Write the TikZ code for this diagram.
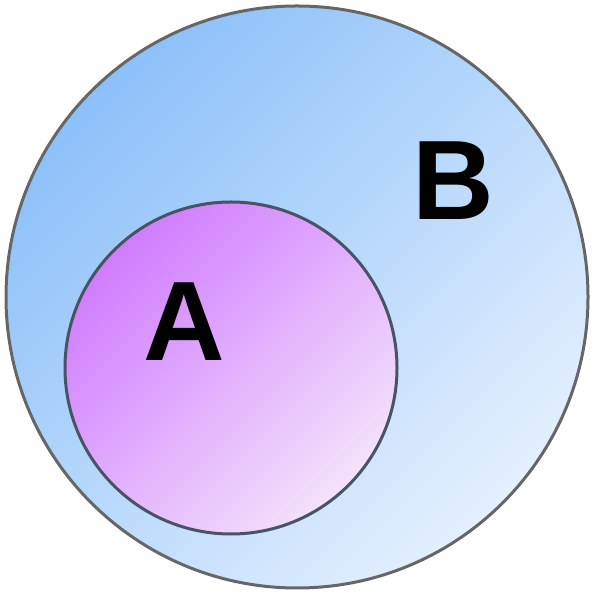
\documentclass[tikz,border=0pt]{standalone}
\usepackage{fontspec}
\setmainfont{Liberation Sans}
\definecolor{bluedark}{HTML}{8CC0F9}
\definecolor{bluelight}{HTML}{E4F0FE}
\definecolor{purpledark}{HTML}{D07CFD}
\definecolor{purplelight}{HTML}{F3E2FC}
\definecolor{rimB}{HTML}{666666}
\definecolor{rimA}{HTML}{4A5366}
\begin{document}
\begin{tikzpicture}[x=1pt,y=1pt,
  setcircle/.style={circle,inner sep=0pt,line width=3pt},
  setlabel/.style={font=\bfseries\fontsize{113}{113}\selectfont,inner sep=0pt}]
\useasboundingbox (0,0) rectangle (593,593);
\node[setcircle,draw=rimB,top color=bluedark,bottom color=bluelight,shading angle=45,minimum size=582pt] (setB) at (297,296) {};
\node[setcircle,draw=rimA,top color=purpledark,bottom color=purplelight,shading angle=45,minimum size=332pt] (setA) at (231,225) {};
\node[setlabel] (labelA) at (184,271) {A};
\node[setlabel] (labelB) at (453,412) {B};
\end{tikzpicture}
\end{document}
